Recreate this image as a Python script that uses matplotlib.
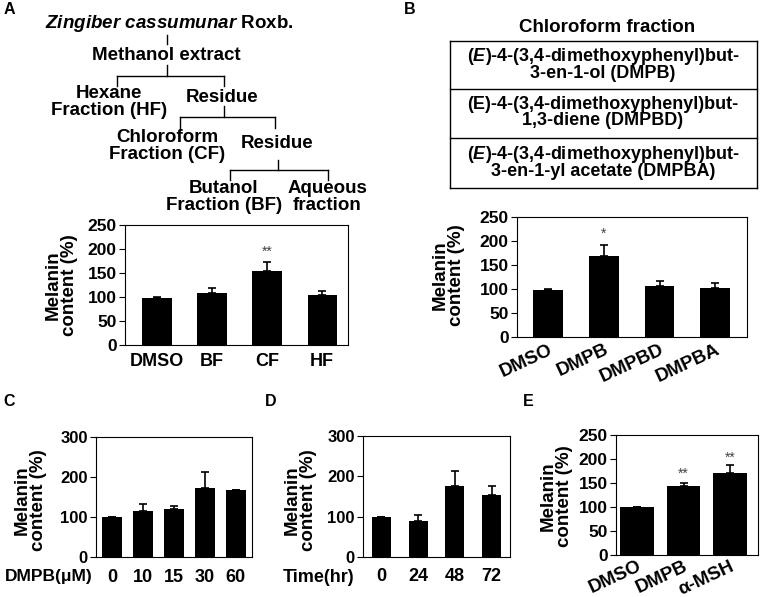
import matplotlib
matplotlib.use("Agg")
import matplotlib.pyplot as plt
import numpy as np

plt.rcParams['font.family'] = ['Liberation Sans', 'DejaVu Sans']
plt.rcParams['font.weight'] = 'bold'
plt.rcParams['mathtext.fontset'] = 'custom'
plt.rcParams['mathtext.it'] = 'Liberation Sans:italic:bold'
plt.rcParams['mathtext.rm'] = 'Liberation Sans:bold'

W, H = 762, 597

# panel A: fractions
a_labels = ["DMSO", "BF", "CF", "HF"]
a_vals = [98, 108, 154, 103.5]
a_err = [1.5, 10, 19, 10]

# panel B: compounds from chloroform fraction
b_labels = ["DMSO", "DMPB", "DMPBD", "DMPBA"]
b_vals = [98.5, 169, 106, 103]
b_err = [1.5, 22, 10.5, 10.5]
b_compounds = [
    "($\\mathit{E}$)-4-(3,4-dimethoxyphenyl)but-\n3-en-1-ol (DMPB)",
    "(E)-4-(3,4-dimethoxyphenyl)but-\n1,3-diene (DMPBD)",
    "($\\mathit{E}$)-4-(3,4-dimethoxyphenyl)but-\n3-en-1-yl acetate (DMPBA)",
]

# panel C: dose
c_labels = ["0", "10", "15", "30", "60"]
c_vals = [99, 115, 121, 173, 167.5]
c_err = [0, 17, 7.5, 40, 0]

# panel D: time
d_labels = ["0", "24", "48", "72"]
d_vals = [100, 90, 175, 152.5]
d_err = [0, 14, 39, 22.5]

# panel E
e_labels = ["DMSO", "DMPB", "α-MSH"]
e_vals = [100, 143, 171]
e_err = [0, 8, 17]

fig = plt.figure(figsize=(W / 100, H / 100), dpi=100)

# overlay in pixel coords for tree, table, labels
ov = fig.add_axes([0, 0, 1, 1])
ov.set_xlim(0, W)
ov.set_ylim(H, 0)
ov.axis('off')


def px_axes(x0, y0, x1, y1):
    return fig.add_axes([x0 / W, 1 - y1 / H, (x1 - x0) / W, (y1 - y0) / H])


def bar_panel(ax, labels, vals, err, width, xlim, ymax, ystep, yfs, xfs, rot=0, xpad=6):
    x = np.arange(len(vals))
    ax.bar(x, vals, width, color='black', zorder=2)
    ax.errorbar(x, vals, yerr=[np.zeros(len(err)), err], fmt='none',
                ecolor='black', elinewidth=1.2, capsize=3, capthick=1.2, zorder=1)
    ax.set_xlim(xlim)
    ax.set_ylim(0, ymax)
    ax.set_yticks(np.arange(0, ymax + 1, ystep))
    ax.set_xticks(x)
    if rot:
        ax.set_xticklabels(labels, rotation=rot, ha='right', rotation_mode='anchor')
    else:
        ax.set_xticklabels(labels)
    ax.tick_params(axis='x', length=0, labelsize=xfs, pad=xpad)
    ax.tick_params(axis='y', length=4, width=0.8, labelsize=yfs, pad=2)
    for s in ax.spines.values():
        s.set_linewidth(0.8)
    return x


def stars(ax, x, y, s):
    ax.text(x, y, s, ha='center', va='center', fontsize=10,
            fontweight='normal', color='#444444')


# ---- Panel A tree
lw = 1.0
fs = 13.5
ov.text(169, 23, "$\\mathit{Zingiber\\ cassumunar}$ Roxb.", ha='center', va='center', fontsize=fs)
ov.plot([167, 167], [35, 44], color='black', lw=lw)
ov.text(166, 56, "Methanol extract", ha='center', va='center', fontsize=fs)
ov.plot([167, 167], [65, 76], color='black', lw=lw)
ov.plot([117, 224], [76, 76], color='black', lw=lw)
ov.plot([117, 117], [76, 86], color='black', lw=lw)
ov.plot([224, 224], [76, 86], color='black', lw=lw)
ov.text(109, 102, "Hexane\nFraction (HF)", ha='center', va='center', fontsize=fs, linespacing=0.95)
ov.text(222, 97, "Residue", ha='center', va='center', fontsize=fs)
ov.plot([224, 224], [106, 117], color='black', lw=lw)
ov.plot([180, 275], [117, 117], color='black', lw=lw)
ov.plot([180, 180], [117, 129], color='black', lw=lw)
ov.plot([275, 275], [117, 128], color='black', lw=lw)
ov.text(167, 146, "Chloroform\nFraction (CF)", ha='center', va='center', fontsize=fs, linespacing=0.95)
ov.text(277, 143, "Residue", ha='center', va='center', fontsize=fs)
ov.plot([278, 278], [160, 170], color='black', lw=lw)
ov.plot([230, 328], [170, 170], color='black', lw=lw)
ov.plot([230, 230], [170, 180], color='black', lw=lw)
ov.plot([328, 328], [170, 180], color='black', lw=lw)
ov.text(224, 197, "Butanol\nFraction (BF)", ha='center', va='center', fontsize=fs, linespacing=0.95)
ov.text(327, 197, "Aqueous\nfraction", ha='center', va='center', fontsize=fs, linespacing=0.95)

# ---- Panel B table
ov.text(607, 28, "Chloroform fraction", ha='center', va='center', fontsize=13.5)
rows_y = [41, 89, 138, 188]
for yy in rows_y:
    ov.plot([450, 757], [yy, yy], color='black', lw=1.0)
ov.plot([450, 450], [41, 188], color='black', lw=1.0)
ov.plot([757, 757], [41, 188], color='black', lw=1.0)
for i, txt in enumerate(b_compounds):
    ov.text(603, (rows_y[i] + rows_y[i + 1]) / 2 - 1, txt, ha='center', va='center',
            fontsize=13, linespacing=0.9)

# ---- panel letters
for lab, (px, py) in zip("ABCDE", [(9, 10), (410, 9), (9, 402), (271, 402), (528, 402)]):
    ov.text(px, py, lab, ha='center', va='center', fontsize=11.5)

# ---- y labels
for (px, py) in [(61, 285), (448, 275), (30, 500), (300, 500), (556, 496)]:
    ov.text(px, py, "Melanin\ncontent (%)", ha='center', va='center', rotation=90,
            fontsize=13.5, linespacing=0.95)

# ---- bar axes
axA = px_axes(125, 225, 348, 345)
x = bar_panel(axA, a_labels, a_vals, a_err, 0.53, (-0.58, 3.47), 250, 50, 12.5, 13)
stars(axA, x[2], 194, "**")

axB = px_axes(517, 217, 747, 337)
x = bar_panel(axB, b_labels, b_vals, b_err, 0.53, (-0.56, 3.57), 250, 50, 12.5, 13.5, rot=25, xpad=3)
stars(axB, x[1], 214, "*")

axC = px_axes(96, 437, 252, 557)
bar_panel(axC, c_labels, c_vals, c_err, 0.65, (-0.52, 4.52), 300, 100, 12, 13, xpad=9)
ov.text(49, 577, "DMPB(μM)", ha='center', va='center', fontsize=12.5)

axD = px_axes(363, 436, 510, 557)
bar_panel(axD, d_labels, d_vals, d_err, 0.52, (-0.5, 3.5), 300, 100, 12, 13, xpad=8)
ov.text(319, 577, "Time(hr)", ha='center', va='center', fontsize=13)

axE = px_axes(616, 435, 758, 555)
x = bar_panel(axE, e_labels, e_vals, e_err, 0.72, (-0.45, 2.6), 250, 50, 12.5, 13.5, rot=25, xpad=2)
stars(axE, x[1], 170, "**")
stars(axE, x[2], 202, "**")

fig.savefig("out.png", dpi=100)
